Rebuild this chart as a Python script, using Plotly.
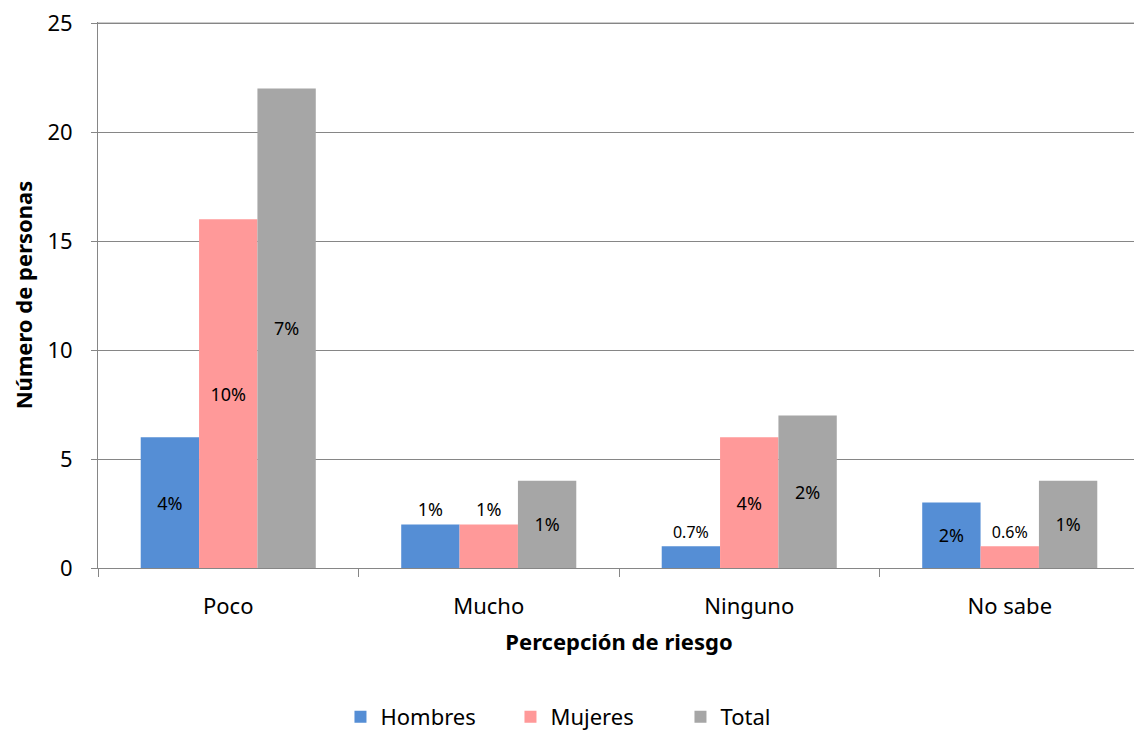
import plotly.graph_objects as go

categories = ["Poco", "Mucho", "Ninguno", "No sabe"]
series_names = ["Hombres", "Mujeres", "Total"]
hombres = [6, 2, 1, 3]
mujeres = [16, 2, 6, 1]
total = [22, 4, 7, 4]
hombres_pct = ["4%", "1%", "0.7%", "2%"]
mujeres_pct = ["10%", "1%", "4%", "0.6%"]
total_pct = ["7%", "1%", "2%", "1%"]
y_ticks = [0, 5, 10, 15, 20, 25]

colors = ["#558ED5", "#FF9999", "#A6A6A6"]
FONT = "Noto Sans"
GRID = "#868686"

values = [hombres, mujeres, total]
pcts = [hombres_pct, mujeres_pct, total_pct]

fig = go.Figure()
for name, vals, txt, col in zip(series_names, values, pcts, colors):
    positions = ["outside" if v <= 2 else "inside" for v in vals]
    sizes = [16 if t.startswith("0.") else 18 for t in txt]
    fig.add_trace(go.Bar(
        name=name, x=categories, y=vals, text=txt,
        textposition=positions, textangle=0,
        insidetextanchor="middle",
        textfont=dict(family=FONT, size=sizes, color="#000000"),
        outsidetextfont=dict(family=FONT, size=sizes, color="#000000"),
        insidetextfont=dict(family=FONT, size=sizes, color="#000000"),
        cliponaxis=False,
        marker=dict(color=col, line=dict(width=0)),
    ))

fig.update_layout(
    width=1142, height=731,
    barmode="group", bargap=0.328, bargroupgap=0,
    plot_bgcolor="white", paper_bgcolor="white",
    margin=dict(l=90, r=10, t=14, b=171, autoexpand=False),
    font=dict(family=FONT, size=22, color="#000000"),
    legend=dict(orientation="h", x=0.2327, xanchor="left",
                yref="container", y=0.0301, yanchor="middle",
                font=dict(family=FONT, size=22), traceorder="normal",
                entrywidth=125, itemwidth=30),
    showlegend=True,
)
fig.update_xaxes(
    automargin=False,
    showline=True, linecolor=GRID, linewidth=1,
    ticks="outside", tickson="boundaries", ticklen=8, tickcolor=GRID,
    tickfont=dict(family=FONT, size=22), ticklabelstandoff=19,
    title=dict(text="<b>Percepción de riesgo</b>", font=dict(family=FONT, size=22), standoff=15),
)
fig.update_yaxes(
    automargin=False,
    range=[0, 25.05], tickvals=y_ticks, ticklabeloverflow="allow",
    showgrid=True, gridcolor=GRID, gridwidth=1,
    showline=True, linecolor=GRID, linewidth=1,
    ticks="outside", ticklen=6, tickcolor=GRID,
    tickfont=dict(family=FONT, size=22), ticklabelstandoff=14,
    zeroline=False,
    title=dict(text="<b>Número de personas</b>", font=dict(family=FONT, size=22), standoff=12),
)
fig.add_hline(y=y_ticks[-1], line=dict(color=GRID, width=1), layer="below")

fig.write_html("out.html")
